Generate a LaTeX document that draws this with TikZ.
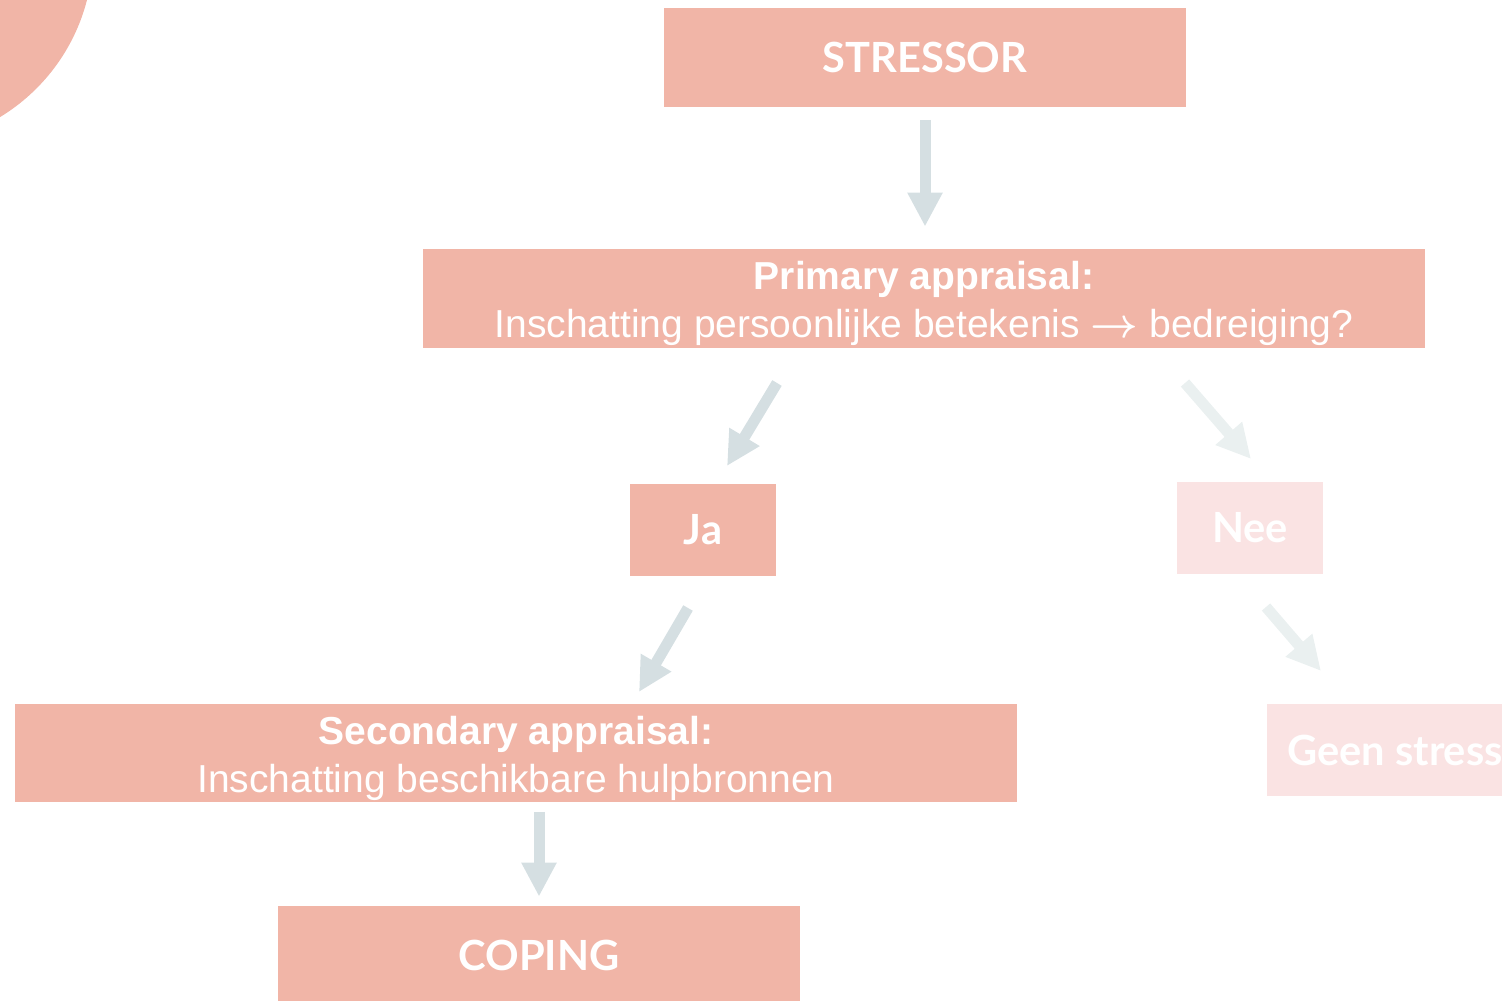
\documentclass[tikz,border=0pt]{standalone}
\usepackage{fontspec}
\setmainfont{Liberation Sans}
\newfontfamily\gillfont{Lato}
\usetikzlibrary{arrows.meta}
\definecolor{salmon}{HTML}{F1B5A7}
\definecolor{palesalmon}{HTML}{FAE3E3}
\definecolor{arrowgrey}{HTML}{D5DFE2}
\definecolor{palegrey}{HTML}{EAF0F0}
\tikzset{
  font={\fontsize{19.5pt}{24pt}\selectfont}}

\begin{document}
\begin{tikzpicture}[x=0.5pt, y=-0.5pt,
  box/.style={fill=salmon, text=white, inner sep=0pt, align=center},
  palebox/.style={box, fill=palesalmon},
  gill/.style={font={\gillfont\bfseries\fontsize{20.8pt}{24pt}\selectfont}},
  bigarrow/.style={line width=5.5pt, draw=arrowgrey, -{Triangle[width=16.5pt,length=17pt]}},
  palearrow/.style={bigarrow, draw=palegrey}]
  \useasboundingbox (0,0) rectangle (1502,1000);
  \clip (0,0) rectangle (1502,1000);
  \fill[salmon] (-100,-48) circle[radius=193];

  \node (stressor) [box, gill, minimum width=261pt, minimum height=49.5pt] at (925,57.5) {STRESSOR};
  \node (prim) [box, minimum width=501pt, minimum height=49.5pt] at (924,298.5)
    {\rule{0pt}{19.5pt}\textbf{Primary appraisal:}\\Inschatting persoonlijke betekenis {\boldmath$\rightarrow$} bedreiging?};
  \node (ja) [box, gill, minimum width=73pt, minimum height=46pt] at (703,530) {Ja};
  \node (nee) [palebox, gill, minimum width=73pt, minimum height=46pt] at (1250,528) {Nee};
  \node (sec) [box, minimum width=501pt, minimum height=49pt] at (516,753)
    {\rule{0pt}{19.5pt}\textbf{Secondary appraisal:}\\Inschatting beschikbare hulpbronnen};
  \node (geen) [palebox, gill, minimum width=128pt, minimum height=46pt] at (1395,750) {Geen stress};
  \node (coping) [box, gill, minimum width=261pt, minimum height=49.5pt] at (539,955.5) {COPING};

  \coordinate (primout1) at (777,383);
  \coordinate (jain) at (727,466);
  \coordinate (primout2) at (1185,383);
  \coordinate (neein) at (1251,459);
  \coordinate (neeout) at (1266,607);
  \coordinate (geenin) at (1321,671);
  \coordinate (jaout) at (688,608);
  \coordinate (secin) at (639,692);

  \draw[bigarrow, shorten <=6.25pt, shorten >=11pt] (stressor) -- (stressor |- prim.north);
  \draw[bigarrow] (primout1) -- (jain);
  \draw[palearrow] (primout2) -- (neein);
  \draw[palearrow] (neeout) -- (geenin);
  \draw[bigarrow] (jaout) -- (secin);
  \draw[bigarrow, shorten <=4.75pt, shorten >=4.5pt] (sec.south -| coping.north) -- (coping.north);
\end{tikzpicture}
\end{document}
